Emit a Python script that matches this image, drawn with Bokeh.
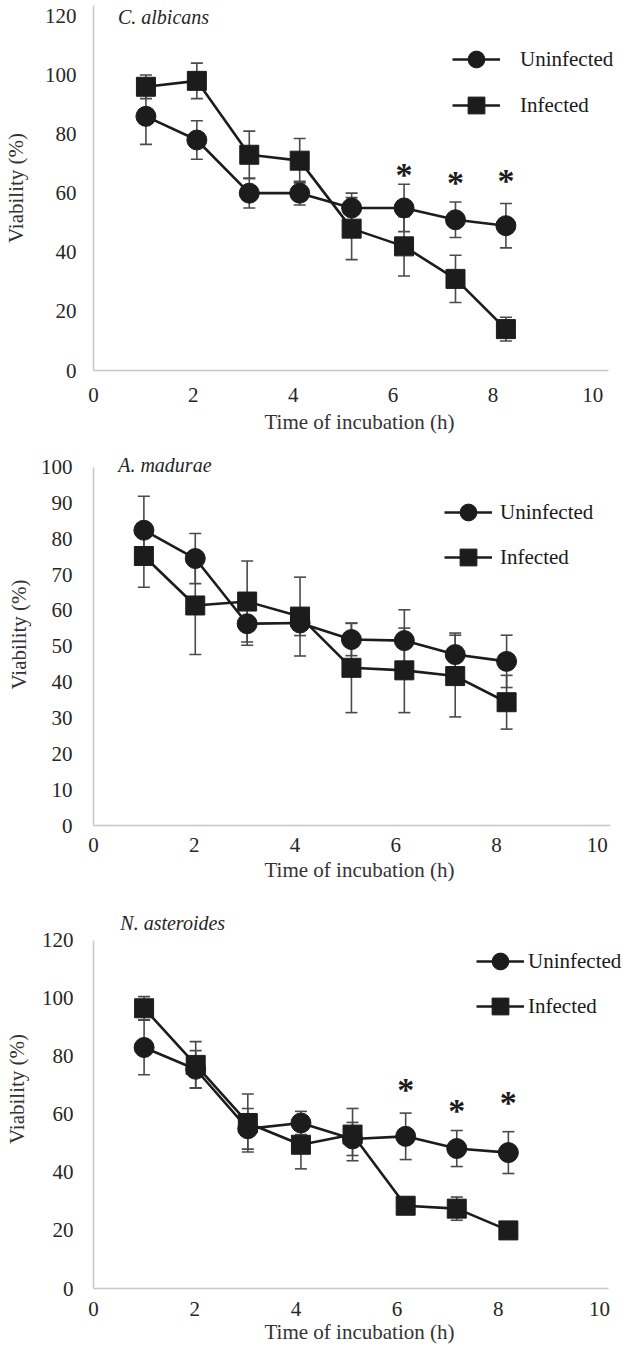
from bokeh.plotting import figure
from bokeh.layouts import column
from bokeh.models import (Whisker, TeeHead, Legend, LegendItem, Label,
                          FixedTicker, Range1d, ColumnDataSource)
from bokeh.core.properties import value
from bokeh.embed import file_html
from bokeh.resources import INLINE

# ---------------- data ----------------
series_labels = ["Uninfected", "Infected"]
x_ticks = [0, 2, 4, 6, 8, 10]

# C. albicans
time_c = [1.05, 2.07, 3.12, 4.13, 5.17, 6.22, 7.25, 8.26]
unin_c = [86, 78, 60, 60, 55, 55, 51, 49]
unin_c_err = [9.5, 6.5, 5, 4, 5, 8, 6, 7.5]
inf_c = [96, 98, 73, 71, 48, 42, 31, 14]
inf_c_err = [4, 6, 8, 7.5, 10.5, 10, 8, 4]
star_c_idx = [5, 6, 7]
star_c_y = [68.7, 65.9, 66.5]

# A. madurae
time_a = [1.0, 2.02, 3.05, 4.1, 5.12, 6.17, 7.18, 8.2]
unin_a = [82.4, 74.5, 56.3, 56.5, 51.9, 51.6, 47.7, 45.8]
unin_a_err = [9.5, 7, 6, 3.5, 4.5, 8.6, 6, 7.3]
inf_a = [75.2, 61.4, 62.5, 58.3, 44, 43.3, 41.7, 34.4]
inf_a_err = [8.7, 13.7, 11.3, 11, 12.5, 11.8, 11.4, 7.5]

# N. asteroides
time_n = [1.0, 2.02, 3.05, 4.1, 5.12, 6.17, 7.18, 8.2]
unin_n = [83, 75.5, 55, 57, 51.5, 52.4, 48.2, 46.8]
unin_n_err = [9.4, 6.4, 7, 4, 5.7, 8, 6.2, 7.2]
inf_n = [96.5, 77, 57, 49.5, 53, 28.5, 27.5, 20]
inf_n_err = [4, 8, 10, 8.3, 9, 1.5, 4, 1]
star_n_idx = [5, 6, 7]
star_n_y = [71, 63.7, 66.5]

DARK = "#1c1c1c"
ERR = "#4a4a4a"
AXIS = "#c8c8c8"
FONT = "Liberation Serif"


def make_panel(title, tx, ty, x, unin, unin_err, inf, inf_err, star_idx, star_y,
               y_bounds, y_end, y_ticks, x_bounds, x_end, height,
               b_left, b_right, b_top, b_bottom,
               yl_standoff, yal_standoff, xl_standoff, xal_standoff,
               leg_loc, leg_standoff, leg_spacing):
    p = figure(width=625, height=height, output_backend="svg", toolbar_location=None,
               x_range=Range1d(0, x_end), y_range=Range1d(0, y_end),
               min_border_left=b_left, min_border_right=b_right,
               min_border_top=b_top, min_border_bottom=b_bottom)
    p.xgrid.visible = False
    p.ygrid.visible = False
    p.outline_line_color = None
    p.background_fill_color = "white"
    p.border_fill_color = "white"

    for ax in (p.xaxis[0], p.yaxis[0]):
        ax.axis_line_color = AXIS
        ax.axis_line_width = 1.5
        ax.major_tick_line_color = None
        ax.minor_tick_line_color = None
        ax.major_label_text_font = FONT
        ax.major_label_text_font_size = "21px"
        ax.major_label_text_color = "#262626"
        ax.axis_label_text_font = FONT
        ax.axis_label_text_font_size = "21px"
        ax.axis_label_text_font_style = "normal"
        ax.axis_label_text_color = "#333333"
    p.xaxis[0].ticker = FixedTicker(ticks=x_ticks)
    p.yaxis[0].ticker = FixedTicker(ticks=y_ticks)
    p.xaxis[0].bounds = x_bounds
    p.yaxis[0].bounds = y_bounds
    p.xaxis[0].axis_label = "Time of incubation (h)"
    p.yaxis[0].axis_label = "Viability (%)"
    p.yaxis[0].major_label_standoff = yl_standoff
    p.yaxis[0].axis_label_standoff = yal_standoff
    p.xaxis[0].major_label_standoff = xl_standoff
    p.xaxis[0].axis_label_standoff = xal_standoff

    renderers = []
    for ys, es, marker, msize in ((unin, unin_err, "circle", 20),
                                  (inf, inf_err, "square", 19)):
        src = ColumnDataSource(dict(
            x=x, y=ys,
            lo=[v - e for v, e in zip(ys, es)],
            hi=[v + e for v, e in zip(ys, es)]))
        w = Whisker(base="x", upper="hi", lower="lo", source=src,
                    dimension="height", line_color=ERR, line_width=1.6,
                    upper_head=TeeHead(size=12, line_color=ERR, line_width=1.6),
                    lower_head=TeeHead(size=12, line_color=ERR, line_width=1.6))
        p.add_layout(w)
        ln = p.line("x", "y", source=src, line_color=DARK, line_width=2.6)
        sc = p.scatter("x", "y", source=src, marker=marker, size=msize,
                       fill_color=DARK, line_color=DARK)
        renderers.append((ln, sc))

    if star_idx:
        p.text(x=[x[i] for i in star_idx], y=star_y, text=["*"] * len(star_idx),
               text_font=value(FONT), text_font_style="bold",
               text_font_size="34px", text_color=DARK,
               text_align="center", text_baseline="middle", y_offset=7)

    legend = Legend(items=[LegendItem(label=series_labels[i], renderers=list(renderers[i]))
                           for i in range(2)],
                    location=leg_loc, glyph_width=48, glyph_height=42,
                    spacing=leg_spacing, padding=0, margin=0,
                    label_standoff=leg_standoff,
                    label_text_font=FONT, label_text_font_size="21px",
                    label_text_color="#1a1a1a",
                    border_line_alpha=0, background_fill_alpha=0)
    p.add_layout(legend)

    p.add_layout(Label(x=tx, y=ty, text=title, text_font=FONT,
                       text_font_style="italic", text_font_size="20px",
                       text_color="#262626", text_baseline="middle"))
    return p


p1 = make_panel("C. albicans", 0.49, 119.5,
                time_c, unin_c, unin_c_err, inf_c, inf_c_err,
                star_c_idx, star_c_y, (0, 123.5), 123.5, [0, 20, 40, 60, 80, 100, 120],
                (0, 10.32), 10.655,
                438, 85, 0, 5, 68, 11, 14, 11, 5, (359, 244), 20, 4)
p2 = make_panel("A. madurae", 0.49, 100.5,
                time_a, unin_a, unin_a_err, inf_a, inf_a_err,
                [], [], (0, 100), 106.6, list(range(0, 101, 10)),
                (0, 10.27), 10.56,
                446, 85, 0, 5, 56, 15, 7, 6, 3, (351, 247), 8, 3)
p3 = make_panel("N. asteroides", 0.53, 126,
                time_n, unin_n, unin_n_err, inf_n, inf_n_err,
                star_n_idx, star_n_y, (0, 120), 137.4, [0, 20, 40, 60, 80, 100, 120],
                (0, 10.18), 10.515,
                462, 90, 0, 5, 55, 14, 10, 7, 1, (383, 261), 4, 3)

layout = column(p1, p2, p3, spacing=0)
open("out.html", "w").write(file_html(layout, INLINE))
